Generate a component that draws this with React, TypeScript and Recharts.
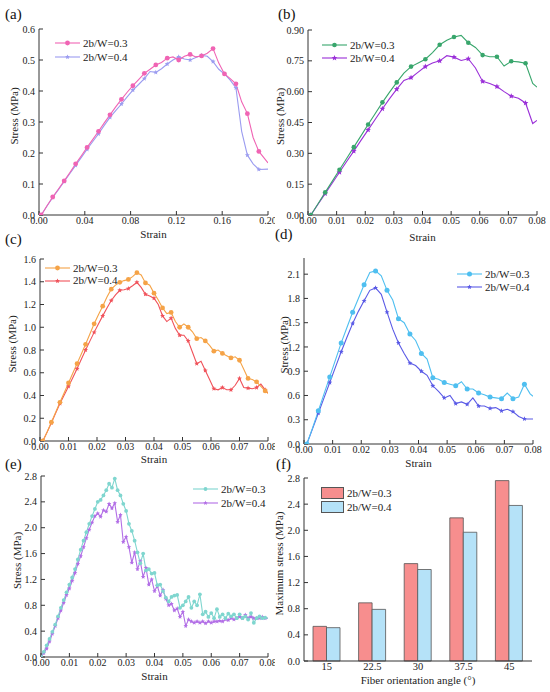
import React from "react";
import { LineChart, Line, BarChart, Bar, XAxis, YAxis } from "recharts";

// ---------- data ----------
const seriesNames = ["2b/W=0.3", "2b/W=0.4"];

const strainA = [0.002, 0.007, 0.012, 0.017, 0.022, 0.027, 0.032, 0.037, 0.042, 0.047, 0.052, 0.057, 0.062, 0.067, 0.072, 0.077, 0.082, 0.087, 0.092, 0.097, 0.102, 0.107, 0.112, 0.117, 0.122, 0.127, 0.132, 0.137, 0.142, 0.147, 0.152, 0.157, 0.162, 0.167, 0.172, 0.177, 0.182, 0.187, 0.192, 0.2];
const stressA03 = [0.0, 0.03, 0.058, 0.084, 0.11, 0.137, 0.165, 0.191, 0.218, 0.244, 0.27, 0.297, 0.323, 0.349, 0.373, 0.396, 0.417, 0.437, 0.457, 0.47, 0.484, 0.492, 0.506, 0.51, 0.5, 0.512, 0.518, 0.51, 0.513, 0.522, 0.537, 0.49, 0.455, 0.44, 0.423, 0.365, 0.327, 0.25, 0.205, 0.168];
const stressA04 = [0.0, 0.029, 0.057, 0.082, 0.108, 0.134, 0.16, 0.186, 0.212, 0.237, 0.262, 0.289, 0.315, 0.337, 0.358, 0.381, 0.403, 0.421, 0.44, 0.463, 0.46, 0.472, 0.487, 0.5, 0.51, 0.503, 0.5, 0.508, 0.515, 0.512, 0.495, 0.47, 0.455, 0.435, 0.41, 0.27, 0.193, 0.165, 0.147, 0.148];

const strainB = [0.001, 0.0035, 0.006, 0.0085, 0.011, 0.0135, 0.016, 0.0185, 0.021, 0.0235, 0.026, 0.0285, 0.031, 0.0335, 0.036, 0.0385, 0.041, 0.0435, 0.046, 0.0485, 0.051, 0.0535, 0.056, 0.0585, 0.061, 0.0635, 0.066, 0.0685, 0.071, 0.0735, 0.076, 0.0785, 0.08];
const stressB03 = [0.0, 0.055, 0.11, 0.165, 0.22, 0.275, 0.33, 0.385, 0.44, 0.494, 0.548, 0.598, 0.645, 0.69, 0.722, 0.74, 0.758, 0.79, 0.828, 0.85, 0.866, 0.874, 0.838, 0.815, 0.778, 0.77, 0.77, 0.725, 0.748, 0.745, 0.738, 0.64, 0.622];
const stressB04 = [0.0, 0.052, 0.104, 0.156, 0.208, 0.26, 0.311, 0.363, 0.414, 0.466, 0.517, 0.566, 0.612, 0.655, 0.668, 0.695, 0.722, 0.74, 0.75, 0.775, 0.768, 0.752, 0.76, 0.715, 0.65, 0.64, 0.625, 0.6, 0.578, 0.568, 0.545, 0.445, 0.46];

const strainC = [0.001, 0.0025, 0.004, 0.0055, 0.007, 0.0085, 0.01, 0.0115, 0.013, 0.0145, 0.016, 0.0175, 0.019, 0.0205, 0.022, 0.0235, 0.025, 0.0265, 0.028, 0.0295, 0.031, 0.0325, 0.034, 0.0355, 0.037, 0.0385, 0.04, 0.0415, 0.043, 0.0445, 0.046, 0.0475, 0.049, 0.0505, 0.052, 0.0535, 0.055, 0.0565, 0.058, 0.0595, 0.061, 0.0625, 0.064, 0.0655, 0.067, 0.0685, 0.07, 0.0715, 0.073, 0.0745, 0.076, 0.0775, 0.079, 0.08];
const stressC03 = [0.0, 0.08, 0.165, 0.252, 0.34, 0.425, 0.51, 0.595, 0.68, 0.765, 0.85, 0.94, 1.03, 1.11, 1.185, 1.265, 1.335, 1.37, 1.395, 1.41, 1.42, 1.445, 1.48, 1.46, 1.39, 1.37, 1.3, 1.24, 1.17, 1.12, 1.13, 1.05, 1.0, 1.03, 1.0, 0.96, 0.9, 0.91, 0.88, 0.84, 0.79, 0.8, 0.77, 0.75, 0.73, 0.74, 0.71, 0.63, 0.55, 0.54, 0.52, 0.48, 0.44, 0.42];
const stressC04 = [0.0, 0.078, 0.16, 0.245, 0.33, 0.405, 0.48, 0.557, 0.635, 0.718, 0.8, 0.878, 0.955, 1.028, 1.1, 1.17, 1.235, 1.285, 1.325, 1.33, 1.34, 1.365, 1.395, 1.35, 1.29, 1.275, 1.255, 1.2, 1.1, 1.05, 1.08, 0.99, 0.93, 0.93, 0.88, 0.78, 0.68, 0.7, 0.62, 0.54, 0.46, 0.45, 0.47, 0.45, 0.45, 0.49, 0.55, 0.47, 0.465, 0.46, 0.47, 0.5, 0.45, 0.42];

const strainD = [0.001, 0.003, 0.005, 0.007, 0.009, 0.011, 0.013, 0.015, 0.017, 0.019, 0.021, 0.023, 0.025, 0.027, 0.029, 0.031, 0.033, 0.035, 0.037, 0.039, 0.041, 0.043, 0.045, 0.047, 0.049, 0.051, 0.053, 0.055, 0.057, 0.059, 0.061, 0.063, 0.065, 0.067, 0.069, 0.071, 0.073, 0.075, 0.077, 0.079, 0.08];
const stressD03 = [0.0, 0.2, 0.41, 0.62, 0.83, 1.04, 1.25, 1.44, 1.63, 1.8, 1.97, 2.12, 2.14, 2.08, 1.9, 1.78, 1.55, 1.5, 1.36, 1.28, 1.12, 1.05, 0.82, 0.8, 0.76, 0.74, 0.72, 0.77, 0.68, 0.68, 0.63, 0.61, 0.58, 0.57, 0.56, 0.63, 0.56, 0.58, 0.74, 0.62, 0.59];
const stressD04 = [0.0, 0.19, 0.38, 0.57, 0.76, 0.95, 1.14, 1.32, 1.49, 1.64, 1.77, 1.9, 1.93, 1.85, 1.63, 1.42, 1.25, 1.12, 1.0, 0.97, 0.9, 0.85, 0.72, 0.65, 0.57, 0.6, 0.5, 0.52, 0.49, 0.57, 0.47, 0.47, 0.44, 0.45, 0.41, 0.43, 0.4, 0.34, 0.31, 0.31, 0.31];

const strainE = [0.0, 0.001, 0.002, 0.003, 0.004, 0.005, 0.006, 0.007, 0.008, 0.009, 0.01, 0.011, 0.012, 0.013, 0.014, 0.015, 0.016, 0.017, 0.018, 0.019, 0.02, 0.021, 0.022, 0.023, 0.024, 0.025, 0.026, 0.027, 0.028, 0.029, 0.03, 0.031, 0.032, 0.033, 0.034, 0.035, 0.036, 0.037, 0.038, 0.039, 0.04, 0.041, 0.042, 0.043, 0.044, 0.045, 0.046, 0.047, 0.048, 0.049, 0.05, 0.051, 0.052, 0.053, 0.054, 0.055, 0.056, 0.057, 0.058, 0.059, 0.06, 0.061, 0.062, 0.063, 0.064, 0.065, 0.066, 0.067, 0.068, 0.069, 0.07, 0.071, 0.072, 0.073, 0.074, 0.075, 0.076, 0.077, 0.078, 0.079, 0.08];
const stressE03 = [0.0, 0.08, 0.18, 0.28, 0.39, 0.5, 0.63, 0.76, 0.88, 1.0, 1.12, 1.23, 1.36, 1.51, 1.66, 1.8, 1.93, 2.06, 2.18, 2.29, 2.4, 2.43, 2.5, 2.58, 2.68, 2.62, 2.76, 2.58, 2.5, 2.37, 2.26, 2.06, 1.95, 1.8, 1.62, 1.45, 1.6, 1.34, 1.36, 1.29, 1.3, 1.11, 1.12, 1.02, 0.92, 0.86, 0.93, 0.95, 0.96, 0.76, 0.8, 0.86, 0.93, 0.76, 0.86, 0.8, 0.97, 0.66, 0.7, 0.62, 0.68, 0.6, 0.74, 0.62, 0.66, 0.6, 0.67, 0.63, 0.66, 0.6, 0.66, 0.6, 0.63, 0.58, 0.68, 0.53, 0.6, 0.63, 0.6, 0.61, 0.6];
const stressE04 = [0.0, 0.06, 0.13, 0.24, 0.36, 0.48, 0.6, 0.72, 0.84, 0.96, 1.06, 1.18, 1.3, 1.44, 1.56, 1.7, 1.84, 1.97, 2.08, 2.18, 2.22, 2.17, 2.27, 2.25, 2.37, 2.3, 2.38, 2.09, 2.2, 1.78, 1.86, 1.7, 1.46, 1.62, 1.36, 1.48, 1.24, 1.38, 1.12, 1.2, 1.02, 1.1, 0.95, 1.04, 0.9, 0.8, 0.82, 0.72, 0.75, 0.62, 0.7, 0.48, 0.58, 0.55, 0.53, 0.55, 0.53, 0.55, 0.52, 0.55, 0.53, 0.55, 0.55, 0.56, 0.55, 0.58, 0.57, 0.6, 0.58, 0.6, 0.62, 0.6, 0.65, 0.6, 0.62, 0.6, 0.6, 0.6, 0.62, 0.6, 0.6];

const angles = ["15", "22.5", "30", "37.5", "45"];
const maxStress03 = [0.53, 0.89, 1.49, 2.19, 2.76];
const maxStress04 = [0.51, 0.79, 1.4, 1.97, 2.38];

const ticksX020 = [0, 0.04, 0.08, 0.12, 0.16, 0.2];
const ticksX008 = [0, 0.01, 0.02, 0.03, 0.04, 0.05, 0.06, 0.07, 0.08];
const ticksYA = [0, 0.1, 0.2, 0.3, 0.4, 0.5, 0.6];
const ticksYB = [0, 0.15, 0.3, 0.45, 0.6, 0.75, 0.9];
const ticksYC = [0, 0.2, 0.4, 0.6, 0.8, 1.0, 1.2, 1.4, 1.6];
const ticksYD = [0, 0.3, 0.6, 0.9, 1.2, 1.5, 1.8, 2.1];
const ticksYE = [0, 0.4, 0.8, 1.2, 1.6, 2.0, 2.4, 2.8];

// ---------- helpers ----------
const FONT = '"Liberation Serif", "Times New Roman", serif';
const AXIS = "#333";
const tickStyle = { fontSize: 10, fill: "#222", fontFamily: FONT };

const toRows = (strain: number[], a: number[], b: number[]) =>
  strain.map((x, i) => ({ strain: x, s03: a[i], s04: b[i] }));

function starPath(cx: number, cy: number, r: number) {
  let d = "";
  for (let k = 0; k < 10; k++) {
    const ang = ((-90 + 36 * k) * Math.PI) / 180;
    const rr = k % 2 === 0 ? r : r * 0.45;
    d += (k === 0 ? "M" : "L") + (cx + rr * Math.cos(ang)).toFixed(2) + "," + (cy + rr * Math.sin(ang)).toFixed(2);
  }
  return d + "Z";
}

type Mark = { color: string; shape: "circle" | "star"; size: number };

function Marker({ cx, cy, m }: { cx: number; cy: number; m: Mark }) {
  if (m.shape === "circle") return <circle cx={cx} cy={cy} r={m.size} fill={m.color} stroke="none" />;
  return <path d={starPath(cx, cy, m.size)} fill={m.color} stroke="none" />;
}

const makeDot = (m: Mark, every: number, n: number) => (p: any) => {
  const { cx, cy, index } = p;
  if (index % every !== 0 || index === n - 1 || cx == null || cy == null) return <g key={`dot-${index}`} />;
  return (
    <g key={`dot-${index}`}>
      <Marker cx={cx} cy={cy} m={m} />
    </g>
  );
};

function yLabel(text: string, dx: number) {
  return {
    content: ({ viewBox }: any) => {
      const x = viewBox.x + dx;
      const y = viewBox.y + viewBox.height / 2 - 6;
      return (
        <text x={x} y={y} transform={`rotate(-90, ${x}, ${y})`} textAnchor="middle" dominantBaseline="central"
          style={{ fontSize: 11, fill: "#222", fontFamily: FONT }}>
          {text}
        </text>
      );
    },
  };
}

function SeriesLegend({ left, top, rowH, marks }: { left: number; top: number; rowH: number; marks: Mark[] }) {
  return (
    <div style={{ position: "absolute", left, top, fontFamily: FONT, fontSize: 11, color: "#222" }}>
      {marks.map((m, i) => (
        <div key={i} style={{ display: "flex", alignItems: "center", height: rowH, whiteSpace: "nowrap" }}>
          <svg width={25} height={10} style={{ display: "block" }}>
            <line x1={0} y1={5} x2={25} y2={5} stroke={m.color} strokeWidth={1.1} />
            <Marker cx={12.5} cy={5} m={m} />
          </svg>
          <span style={{ marginLeft: 3, lineHeight: 1 }}>{seriesNames[i]}</span>
        </div>
      ))}
    </div>
  );
}

type Box = { x0: number; y0: number; w: number; h: number; L: number; T: number; R: number; B: number };

function StressPanel(props: {
  box: Box; rows: any[]; xDomain: number[]; xTicks: number[]; yDomain: number[]; yTicks: number[];
  yDigits: number; marks: Mark[]; every: number; yLabelDx: number; xLabelOffset: number;
}) {
  const { box, rows, xDomain, xTicks, yDomain, yTicks, yDigits, marks, every, yLabelDx, xLabelOffset } = props;
  const n = rows.length;
  return (
    <div style={{ position: "absolute", left: box.x0, top: box.y0 }}>
      <LineChart width={box.w} height={box.h} data={rows}
        margin={{ top: box.T - box.y0, right: box.x0 + box.w - box.R, left: 0, bottom: 0 }}>
        <XAxis dataKey="strain" type="number" domain={xDomain} ticks={xTicks} interval={0} allowDataOverflow
          tickFormatter={(v: number) => v.toFixed(2)} tick={tickStyle} tickSize={-4} tickMargin={6}
          stroke={AXIS} height={box.y0 + box.h - box.B}
          label={{ value: "Strain", position: "insideBottom", offset: xLabelOffset, style: { fontSize: 11, fill: "#222", fontFamily: FONT } }} />
        <YAxis type="number" domain={yDomain} ticks={yTicks} interval={0} allowDataOverflow
          tickFormatter={(v: number) => v.toFixed(yDigits)} tick={tickStyle} tickSize={-4} tickMargin={8}
          stroke={AXIS} width={box.L - box.x0} label={yLabel("Stress (MPa)", yLabelDx)} />
        <XAxis xAxisId="top" orientation="top" type="number" domain={xDomain} allowDataOverflow tick={false} tickLine={false} height={0} stroke={AXIS} />
        <YAxis yAxisId="right" orientation="right" type="number" domain={yDomain} allowDataOverflow tick={false} tickLine={false} width={0} stroke={AXIS} />
        <Line type="linear" dataKey="s04" stroke={marks[1].color} strokeWidth={1.1} dot={makeDot(marks[1], every, n)}
          activeDot={false} isAnimationActive={false} />
        <Line type="linear" dataKey="s03" stroke={marks[0].color} strokeWidth={1.1} dot={makeDot(marks[0], every, n)}
          activeDot={false} isAnimationActive={false} />
      </LineChart>
    </div>
  );
}

function PanelTag({ text, left, top }: { text: string; left: number; top: number }) {
  return (
    <div style={{ position: "absolute", left, top, fontFamily: FONT, fontSize: 15, lineHeight: "15px", color: "#111" }}>
      {text}
    </div>
  );
}

const rowsA = toRows(strainA, stressA03, stressA04);
const rowsB = toRows(strainB, stressB03, stressB04);
const rowsC = toRows(strainC, stressC03, stressC04);
const rowsD = toRows(strainD, stressD03, stressD04);
const rowsE = toRows(strainE, stressE03, stressE04);
const rowsF = angles.map((a, i) => ({ angle: a, p03: maxStress03[i], p04: maxStress04[i] }));

const marksA: Mark[] = [{ color: "#f064b4", shape: "circle", size: 2.4 }, { color: "#9b9cf0", shape: "star", size: 2.6 }];
const marksB: Mark[] = [{ color: "#38a66c", shape: "circle", size: 2.3 }, { color: "#9a2fd8", shape: "star", size: 3 }];
const marksC: Mark[] = [{ color: "#f5a347", shape: "circle", size: 2.4 }, { color: "#f0525a", shape: "star", size: 2.6 }];
const marksD: Mark[] = [{ color: "#4fbff0", shape: "circle", size: 2.5 }, { color: "#5a5ae6", shape: "star", size: 2.6 }];
const marksE: Mark[] = [{ color: "#7fd6cf", shape: "circle", size: 1.9 }, { color: "#b26ee6", shape: "star", size: 2.4 }];

const BAR03 = "#f78e8e";
const BAR04 = "#b5e2f8";

export default function App() {
  return (
    <div style={{ position: "absolute", left: 0, top: 0, width: 550, height: 692, background: "#fff", overflow: "hidden" }}>
      <StressPanel box={{ x0: 0, y0: 0, w: 275, h: 240, L: 39, T: 29, R: 268, B: 215 }} rows={rowsA}
        xDomain={[0, 0.2]} xTicks={ticksX020} yDomain={[0, 0.6]} yTicks={ticksYA} yDigits={1}
        marks={marksA} every={2} yLabelDx={14} xLabelOffset={2} />
      <StressPanel box={{ x0: 275, y0: 0, w: 275, h: 243, L: 308, T: 30, R: 537, B: 215 }} rows={rowsB}
        xDomain={[0, 0.08]} xTicks={ticksX008} yDomain={[0, 0.9]} yTicks={ticksYB} yDigits={2}
        marks={marksB} every={2} yLabelDx={5} xLabelOffset={2} />
      <StressPanel box={{ x0: 0, y0: 240, w: 275, h: 224, L: 40, T: 259, R: 268, B: 441 }} rows={rowsC}
        xDomain={[0, 0.08]} xTicks={ticksX008} yDomain={[0, 1.6]} yTicks={ticksYC} yDigits={1}
        marks={marksC} every={2} yLabelDx={12} xLabelOffset={1} />
      <StressPanel box={{ x0: 275, y0: 242, w: 275, h: 226, L: 304, T: 258, R: 533, B: 444 }} rows={rowsD}
        xDomain={[0, 0.08]} xTicks={ticksX008} yDomain={[0, 2.3]} yTicks={ticksYD} yDigits={1}
        marks={marksD} every={2} yLabelDx={9} xLabelOffset={1} />
      <StressPanel box={{ x0: 0, y0: 466, w: 275, h: 215, L: 41, T: 476, R: 268, B: 657 }} rows={rowsE}
        xDomain={[0, 0.08]} xTicks={ticksX008} yDomain={[0, 2.8]} yTicks={ticksYE} yDigits={1}
        marks={marksE} every={1} yLabelDx={17} xLabelOffset={1} />

      <div style={{ position: "absolute", left: 275, top: 466 }}>
        <BarChart width={275} height={222} data={rowsF} margin={{ top: 12, right: 18, left: 0, bottom: 0 }}
          barGap={0}>
          <XAxis dataKey="angle" type="category" interval={0} tick={{ ...tickStyle, fontSize: 10.5 }} tickLine={false}
            tickSize={0} tickMargin={2} stroke={AXIS} height={27}
            label={{ value: "Fiber orientation angle (°)", position: "insideBottom", offset: 4, style: { fontSize: 11, fill: "#222", fontFamily: FONT } }} />
          <YAxis type="number" domain={[0, 2.8]} ticks={ticksYE} interval={0} tickFormatter={(v: number) => v.toFixed(1)}
            tick={tickStyle} tickSize={-4} tickMargin={8} stroke={AXIS} width={29}
            label={yLabel("Maximum stress (MPa)", 4)} />
          <XAxis xAxisId="top" orientation="top" dataKey="angle" type="category" tick={false} tickLine={false} height={0} stroke={AXIS} />
          <YAxis yAxisId="right" orientation="right" type="number" domain={[0, 2.8]} tick={false} tickLine={false} width={0} stroke={AXIS} />
          <Bar dataKey="p03" barSize={13.5} fill={BAR03} stroke="#555" strokeWidth={0.8} isAnimationActive={false} />
          <Bar dataKey="p04" barSize={13.5} fill={BAR04} stroke="#555" strokeWidth={0.8} isAnimationActive={false} />
        </BarChart>
      </div>

      <SeriesLegend left={55} top={36} rowH={14} marks={marksA} />
      <SeriesLegend left={322} top={38.5} rowH={13} marks={marksB} />
      <SeriesLegend left={45} top={262} rowH={12.5} marks={marksC} />
      <SeriesLegend left={457} top={267.5} rowH={13} marks={marksD} />
      <SeriesLegend left={193} top={482} rowH={14} marks={marksE} />
      <div style={{ position: "absolute", left: 321, top: 486, fontFamily: FONT, fontSize: 11, color: "#222" }}>
        {[BAR03, BAR04].map((c, i) => (
          <div key={i} style={{ display: "flex", alignItems: "center", height: 14, whiteSpace: "nowrap" }}>
            <div style={{ width: 21, height: 10, background: c, border: "0.8px solid #555" }} />
            <span style={{ marginLeft: 3, lineHeight: 1 }}>{seriesNames[i]}</span>
          </div>
        ))}
      </div>

      <PanelTag text="(a)" left={5} top={7} />
      <PanelTag text="(b)" left={278} top={7} />
      <PanelTag text="(c)" left={5} top={232} />
      <PanelTag text="(d)" left={275} top={227} />
      <PanelTag text="(e)" left={5} top={457} />
      <PanelTag text="(f)" left={276} top={457} />
    </div>
  );
}
